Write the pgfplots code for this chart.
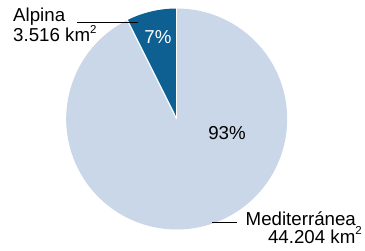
\documentclass[border=0pt]{standalone}
\usepackage{pgfplots}
\pgfplotsset{compat=1.18}
\usepackage{fontspec}
\setmainfont{Liberation Sans}
\definecolor{darkb}{HTML}{0E5F92}
\definecolor{lightb}{HTML}{CAD7E8}
\newcommand{\sq}{\raisebox{0.45em}{\fontsize{11.5}{11.5}\selectfont 2}}
\begin{document}
\begin{tikzpicture}[every node/.style={font=\fontsize{18.7}{21}\selectfont, inner sep=0pt}]
\path[use as bounding box] (0,0) rectangle (365pt,250pt);
% areas in thousand km2
\def\vA{3.516}\def\vM{44.204}
\pgfmathsetmacro{\angA}{360*\vA/(\vA+\vM)}
\pgfmathsetmacro{\endA}{90+\angA}
\begin{axis}[x=1pt,y=1pt,xmin=0,xmax=365,ymin=0,ymax=250,hide axis,clip=false,anchor=south west,at={(0,0)}]
\fill[lightb] (axis cs:176.7,131) -- ++(\endA:110.5pt) arc[start angle=\endA,end angle=450,radius=110.5pt] -- cycle;
\fill[darkb] (axis cs:176.7,131) -- ++(90:110.5pt) arc[start angle=90,end angle=\endA,radius=110.5pt] -- cycle;
\draw[white,line width=1.2pt] (axis cs:176.7,131) -- ++(90:111pt);
\draw[white,line width=1.2pt] (axis cs:176.7,131) -- ++(\endA:111pt);
\draw[black,line width=0.8pt] (axis cs:77,228) -- (axis cs:138,228);
\draw[black,line width=0.8pt] (axis cs:212,27.3) -- (axis cs:237,27.3);
\node[anchor=base west] at (axis cs:13,228.3) {Alpina};
\node[anchor=base west] at (axis cs:13,208.3) {3.516 km\sq};
\node[anchor=base west] at (axis cs:245.5,25) {Mediterránea};
\node[anchor=base east] at (axis cs:362,7) {44.204 km\sq};
\node[white] at (axis cs:158,213) {7\%};
\node at (axis cs:227,117) {93\%};
\end{axis}
\end{tikzpicture}
\end{document}
